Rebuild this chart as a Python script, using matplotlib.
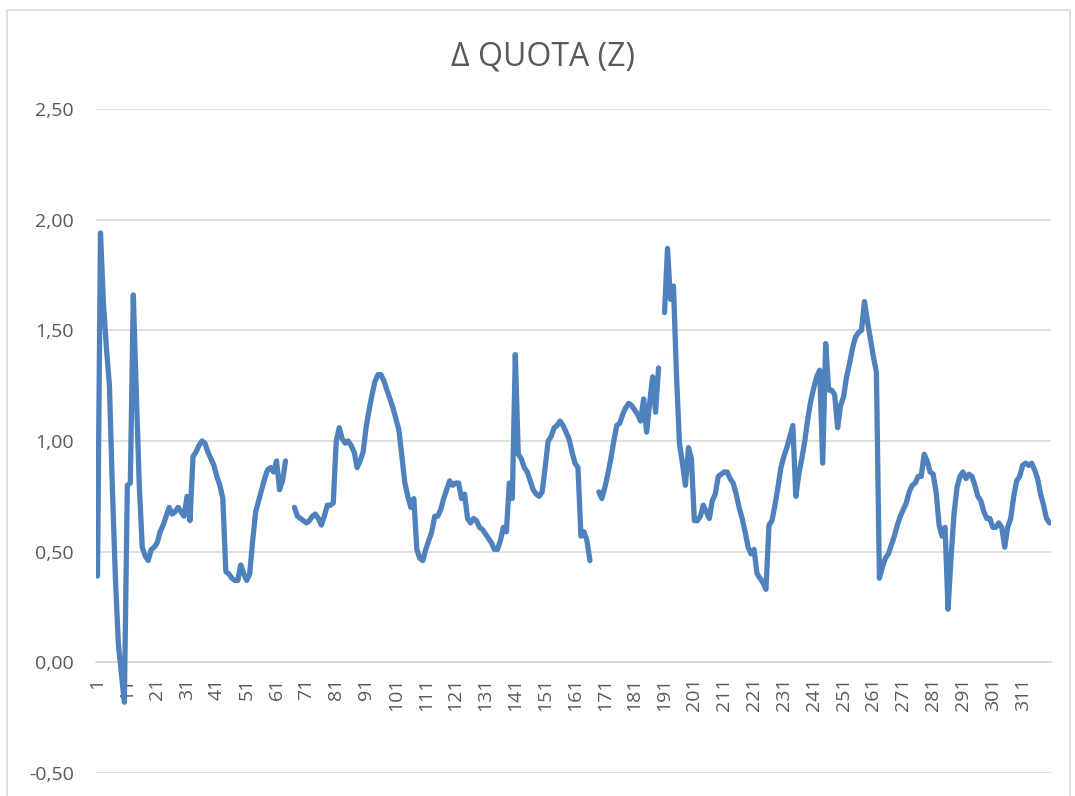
import numpy as np
import matplotlib
matplotlib.use('Agg')
import matplotlib.pyplot as plt
from matplotlib.patches import Rectangle
from matplotlib.ticker import FuncFormatter

plt.rcParams['font.family'] = ['Open Sans', 'DejaVu Sans']

nan = np.nan

# giornate 1..320, valori delta quota (z); nan = dato mancante
giorni = np.arange(1, 321)
delta_quota = [
    0.39, 1.94, 1.62, 1.42, 1.25, 0.78, 0.38, 0.08, -0.05, -0.18,
    0.80, 0.81, 1.66, 1.22, 0.80, 0.52, 0.48, 0.46, 0.51, 0.52,
    0.54, 0.59, 0.62, 0.66, 0.70, 0.67, 0.68, 0.70, 0.68, 0.66,
    0.75, 0.64, 0.93, 0.95, 0.98, 1.00, 0.99, 0.95, 0.92, 0.89,
    0.84, 0.80, 0.74, 0.41, 0.40, 0.38, 0.37, 0.37, 0.44, 0.40,
    0.37, 0.40, 0.55, 0.68, 0.73, 0.78, 0.83, 0.87, 0.88, 0.86,
    0.91, 0.78, 0.82, 0.91, nan, nan, 0.70, 0.66, 0.65, 0.64,
    0.63, 0.64, 0.66, 0.67, 0.65, 0.62, 0.66, 0.71, 0.71, 0.72,
    1.00, 1.06, 1.01, 0.99, 1.00, 0.98, 0.95, 0.88, 0.91, 0.95,
    1.06, 1.14, 1.21, 1.27, 1.30, 1.30, 1.27, 1.23, 1.19, 1.15,
    1.10, 1.05, 0.93, 0.81, 0.75, 0.70, 0.74, 0.51, 0.47, 0.46,
    0.51, 0.55, 0.59, 0.66, 0.66, 0.69, 0.74, 0.78, 0.82, 0.80,
    0.81, 0.81, 0.74, 0.76, 0.65, 0.63, 0.65, 0.64, 0.61, 0.60,
    0.58, 0.56, 0.54, 0.51, 0.51, 0.55, 0.61, 0.59, 0.81, 0.74,
    1.39, 0.94, 0.92, 0.88, 0.86, 0.82, 0.78, 0.76, 0.75, 0.77,
    0.88, 1.00, 1.02, 1.06, 1.07, 1.09, 1.07, 1.04, 1.01, 0.95,
    0.90, 0.88, 0.57, 0.59, 0.55, 0.46, nan, nan, 0.77, 0.74,
    0.79, 0.85, 0.92, 1.00, 1.07, 1.08, 1.12, 1.15, 1.17, 1.16,
    1.14, 1.12, 1.09, 1.19, 1.04, 1.17, 1.29, 1.13, 1.33, nan,
    1.58, 1.87, 1.64, 1.70, 1.30, 0.99, 0.90, 0.80, 0.97, 0.92,
    0.64, 0.64, 0.66, 0.71, 0.68, 0.65, 0.73, 0.76, 0.84, 0.85,
    0.86, 0.86, 0.83, 0.81, 0.76, 0.70, 0.65, 0.59, 0.52, 0.49,
    0.51, 0.40, 0.38, 0.36, 0.33, 0.62, 0.64, 0.71, 0.79, 0.88,
    0.93, 0.97, 1.02, 1.07, 0.75, 0.85, 0.92, 1.00, 1.10, 1.18,
    1.24, 1.29, 1.32, 0.90, 1.44, 1.23, 1.23, 1.21, 1.06, 1.16,
    1.20, 1.29, 1.35, 1.42, 1.47, 1.49, 1.50, 1.63, 1.54, 1.46,
    1.38, 1.31, 0.38, 0.43, 0.47, 0.49, 0.53, 0.57, 0.62, 0.66,
    0.69, 0.72, 0.77, 0.80, 0.81, 0.84, 0.84, 0.94, 0.91, 0.86,
    0.85, 0.77, 0.62, 0.57, 0.61, 0.24, 0.47, 0.67, 0.79, 0.84,
    0.86, 0.83, 0.85, 0.84, 0.80, 0.75, 0.73, 0.68, 0.65, 0.65,
    0.61, 0.61, 0.63, 0.61, 0.52, 0.61, 0.65, 0.75, 0.82, 0.84,
    0.89, 0.90, 0.89, 0.90, 0.87, 0.83, 0.76, 0.71, 0.65, 0.63,
]
tick_giorni = giorni[::10]

grigio = '#595959'
griglia = '#D9D9D9'

fig = plt.figure(figsize=(10.75, 7.96), dpi=100)
ax = fig.add_axes([96 / 1075, 1 - 773 / 796, 955 / 1075, 664 / 796])

ax.plot(giorni, delta_quota, color='#4F81BD', lw=3.8,
        solid_capstyle='round', solid_joinstyle='round', zorder=3)

ax.set_xlim(0.5, len(giorni) + 0.5)
ax.set_ylim(-0.5, 2.5)
ax.set_yticks(np.arange(-0.5, 2.51, 0.5))
ax.yaxis.set_major_formatter(FuncFormatter(lambda v, p: ('%.2f' % v).replace('.', ',')))
ax.grid(axis='y', color=griglia, lw=1.2, zorder=0)

# asse delle categorie sullo zero
ax.spines['bottom'].set_position(('data', 0))
ax.spines['bottom'].set_color(griglia)
ax.spines['bottom'].set_linewidth(1.2)
for s in ['top', 'right', 'left']:
    ax.spines[s].set_visible(False)
ax.set_xticks(tick_giorni)
ax.set_xticklabels([str(g) for g in tick_giorni], rotation=90, va='top', ha='center')
ax.tick_params(axis='x', length=0, pad=11, labelsize=14, labelcolor=grigio)
ax.tick_params(axis='y', length=0, pad=16, labelsize=14, labelcolor=grigio)

fig.text(543 / 1075, 1 - 57 / 796, 'Δ QUOTA (Z)', ha='center', va='center',
         fontsize=23, color=grigio)

# bordo dell'area grafico
fig.patches.append(Rectangle((7 / 1075, -0.01), 1063 / 1075, 1 - 10 / 796 + 0.01,
                             transform=fig.transFigure, fill=False,
                             edgecolor=griglia, lw=1.2))

plt.savefig('out.png', dpi=100)
